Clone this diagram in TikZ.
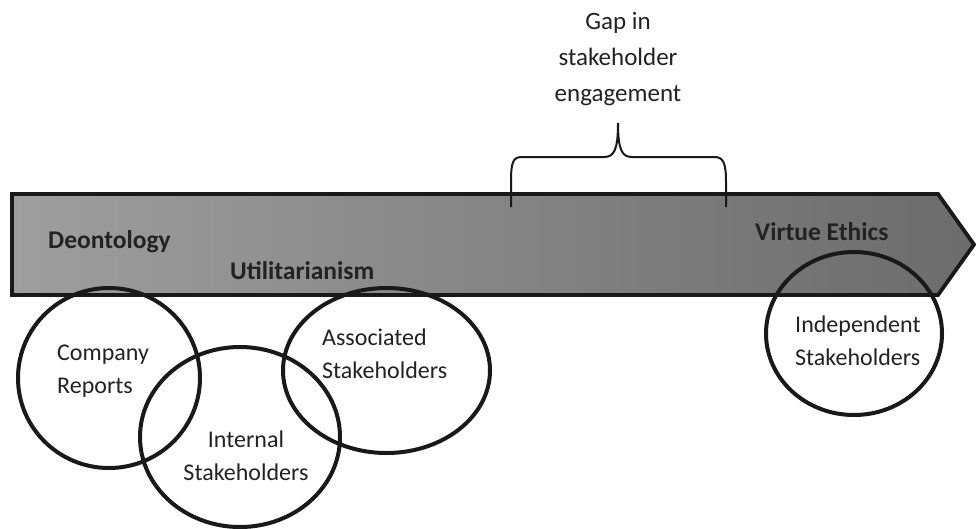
\documentclass[tikz,border=0pt]{standalone}
\usepackage{fontspec}
\setmainfont{Carlito}
\usetikzlibrary{shapes.geometric}
\definecolor{lgray}{RGB}{158,158,158}
\definecolor{dgray}{RGB}{108,108,108}
\definecolor{txt}{RGB}{34,34,34}
\tikzset{
  circ/.style={draw=black!90, line width=4pt, ellipse, inner sep=0pt},
  lab/.style={inner sep=0pt, anchor=base west, text=txt, font=\fontsize{24}{33}\selectfont, align=left},
  blab/.style={inner sep=0pt, anchor=base west, text=txt, font=\fontsize{25.5}{30}\selectfont\bfseries},
}
\begin{document}
\begin{tikzpicture}[x=1pt,y=-1pt]
\useasboundingbox (0,0) rectangle (976,528);
% arrow band
\path[left color=lgray,right color=dgray, draw=black!90, line width=3.8pt, line join=miter]
  (12,194) -- (938,194) -- (974,244.5) -- (938,295) -- (12,295) -- cycle;
% bold labels
\node[blab] (deon) at (48,248) {Deontology};
\node[blab] (util) at (230,279) {Utilitarianism};
\node[blab] (virt) at (755,240) {Virtue Ethics};
% ellipses
\node[circ, minimum width=182pt, minimum height=180pt] (cr) at (109,378) {};
\node[circ, minimum width=200pt, minimum height=180pt] (is) at (240,437) {};
\node[circ, minimum width=207pt, minimum height=165pt] (as) at (386.5,370.5) {};
\node[circ, minimum width=176pt, minimum height=163pt] (ind) at (854,333.5) {};
% circle labels (anchor = baseline of last line)
\node[lab] (crt) at (57,393) {Company\\Reports};
\node[lab] (ast) at (322,378) {Associated\\Stakeholders};
\node[lab, align=center, anchor=base] (ist) at (246,480) {Internal\\Stakeholders};
\node[lab] (indt) at (795,365) {Independent\\Stakeholders};
% brace
\coordinate (bl) at (511,207);
\coordinate (br) at (726,207);
\coordinate (bt) at (618,123);
\draw[line width=2pt, black!90]
  (bl) -- (511,182) .. controls (511,162) and (513,157) .. (522,157)
  -- (604,157) .. controls (614,157) and (618,150) .. (bt)
  .. controls (618,150) and (622,157) .. (632,157)
  -- (714,157) .. controls (723,157) and (726,162) .. (726,182) -- (br);
\node[inner sep=0pt, align=center, text=txt, font=\fontsize{25}{36}\selectfont, anchor=base] (gap) at (618,101) {Gap in\\stakeholder\\engagement};
\end{tikzpicture}
\end{document}
